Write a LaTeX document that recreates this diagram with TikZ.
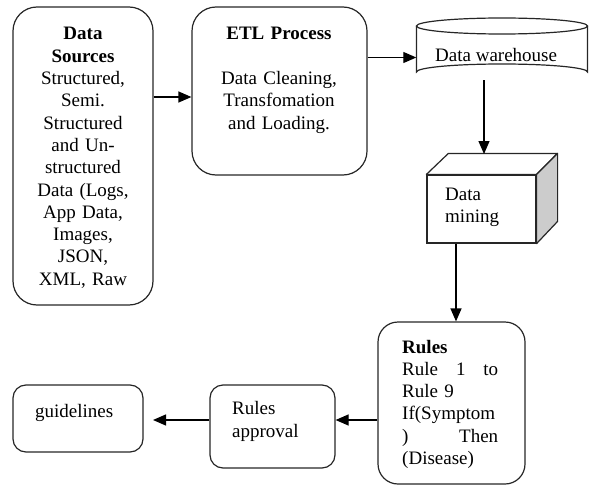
\documentclass[tikz,border=0pt]{standalone}
\usepackage{fontspec}
\setmainfont{Liberation Serif}
\usetikzlibrary{arrows.meta}
\begin{document}
\begin{tikzpicture}[x=1pt,y=-1pt,
  shape line/.style={line width=1.2pt, draw=black!85},
  box/.style={shape line, rounded corners=#1, inner sep=0pt},
  box/.default=24pt,
  area/.style={inner sep=0pt},
  txt/.style={inner sep=0pt, font=\fontsize{19}{22.3}\selectfont},
  arr/.style={line width=1.2pt, -{Triangle[length=13pt,width=11pt]}}]
\useasboundingbox (0,0) rectangle (589,487);

% Boxes
\node[box, minimum width=140pt, minimum height=298pt] (src) at (83,156) {};
\node[box, minimum width=175pt, minimum height=168pt] (etl) at (279.5,91) {};
\node[box=20pt, minimum width=147pt, minimum height=162pt] (rules) at (451.5,403) {};
\node[box=13pt, minimum width=125pt, minimum height=83pt] (appr) at (272.5,426.5) {};
\node[box=13pt, minimum width=130pt, minimum height=67pt] (guide) at (78,418.5) {};

% Data warehouse (cylinder)
\node[area, minimum width=171pt, minimum height=62pt] (wh) at (502,49) {};
\draw[shape line] (416.5,26) -- (416.5,72) arc[start angle=180, end angle=360, x radius=85.5, y radius=8] -- (587.5,26);
\draw[shape line] (502,26) ellipse [x radius=85.5, y radius=8];

% Data mining (cube)
\node[shape line, fill=white, inner sep=0pt, minimum width=109pt, minimum height=68pt] (dm) at (481.5,209) {};
\draw[shape line, fill=white, line join=round] (dm.north west) -- ++(22,-21) -- ++(109,0) -- (dm.north east) -- cycle;
\draw[shape line, fill=black!20, line join=round] (dm.north east) -- ++(21,-21) -- ++(0,68) -- (dm.south east) -- cycle;

% Texts
\node[txt, text width=130pt, align=center, anchor=base] (srctxt) at (83,40) {\textbf{Data}\\\textbf{Sources}\\Structured,\\Semi.\\Structured\\and Un-\\structured\\Data (Logs,\\App Data,\\Images,\\JSON,\\XML, Raw};
\node[txt, text width=165pt, align=center, anchor=base] (etltxt) at (279,40) {\textbf{ETL Process}\\[22.3pt]Data Cleaning,\\Transfomation\\and Loading.};
\node[txt, anchor=base west] (whtxt) at (435,62) {Data warehouse};
\node[txt, text width=85pt, align=left, anchor=base west] (dmtxt) at (445,200) {Data\\mining};
\node[txt, text width=96pt, align=left, anchor=base west] (rulestxt) at (402,353) {\textbf{Rules}\\Rule\hfill 1\hfill to\\Rule 9\\If(Symptom\\)\hfill Then\\(Disease)};
\node[txt, text width=95pt, align=left, anchor=base west] (apprtxt) at (232,414) {Rules\\[1.5pt]approval};
\node[txt, anchor=base west] (guidetxt) at (35,417) {guidelines};

% Connector levels
\coordinate (y1) at (0,97);
\coordinate (y2) at (0,57.5);
\coordinate (x3) at (484,0);
\coordinate (dmtop) at (484,154);
\coordinate (x4) at (456,0);
\coordinate (y5) at (0,420);
\coordinate (gend) at (153,420);

% Connectors
\draw[arr] (src.east |- y1) -- (etl.west |- y1);
\draw[arr] (etl.east |- y2) -- (wh.west |- y2);
\draw[arr] (wh.south -| x3) -- (dmtop);
\draw[arr] (dm.south -| x4) -- (rules.north -| x4);
\draw[arr] (rules.west |- y5) -- (appr.east |- y5);
\draw[arr] (appr.west |- y5) -- (gend);
\end{tikzpicture}
\end{document}
